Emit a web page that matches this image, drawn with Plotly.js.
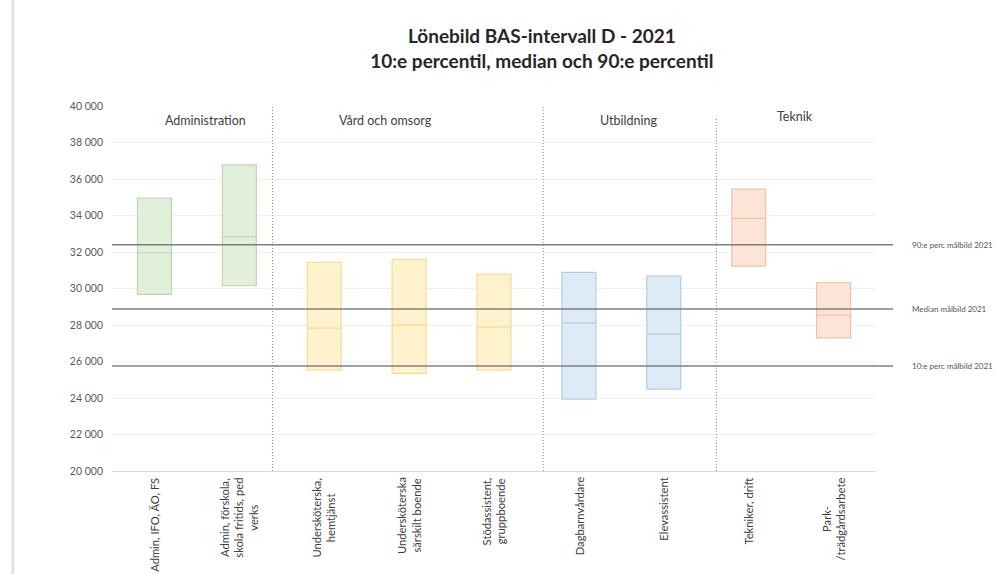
<!DOCTYPE html>
<html>
<head>
<meta charset="utf-8">
<script src="https://cdn.plot.ly/plotly-3.0.1.min.js"></script>
<style>
html,body{margin:0;padding:0;background:#fff;}
#chart{width:996px;height:574px;}
</style>
</head>
<body>
<div id="chart"></div>
<script>
// ---- data ----
const categories = [
  "Admin, IFO, ÄO, FS",
  "Admin, förskola,<br>skola fritids, ped<br>verks",
  "Undersköterska,<br>hemtjänst",
  "Undersköterska<br>särskilt boende",
  "Stödassistent,<br>gruppboende",
  "Dagbarnvårdare",
  "Elevassistent",
  "Tekniker, drift",
  "Park-<br>/trädgårdsarbete"
];
const groupOf = [0, 0, 1, 1, 1, 2, 2, 3, 3];
const groupNames = ["Administration", "Vård och omsorg", "Utbildning", "Teknik"];
const p10    = [29680, 30150, 25530, 25350, 25530, 23940, 24490, 31230, 27300];
const median = [31960, 32840, 27830, 27990, 27900, 28120, 27500, 33840, 28540];
const p90    = [34960, 36770, 31430, 31600, 30790, 30880, 30680, 35450, 30330];
const targetNames  = ["90:e perc målbild 2021", "Median målbild 2021", "10:e perc målbild 2021"];
const targetValues = [32400, 28870, 25760];
const dividerPos = [1.39, 4.58, 6.62];
const dividerTop = [40000, 40000, 39400];
const groupLabelX = [0.60, 2.72, 5.58, 7.54];
const groupLabelY = [39230, 39230, 39230, 39450];

// ---- styles ----
const fills = ["#e2efda", "#fff2cc", "#ddebf7", "#fce4d6"];
const borders = ["#bcd8a9", "#f3dc95", "#b3cde6", "#efc3a6"];

const traces = groupNames.map((g, gi) => {
  const idx = categories.map((c, i) => i).filter(i => groupOf[i] === gi);
  return {
    type: "box",
    name: g,
    x: idx,
    q1: idx.map(i => p10[i]),
    median: idx.map(i => median[i]),
    q3: idx.map(i => p90[i]),
    lowerfence: idx.map(i => p10[i]),
    upperfence: idx.map(i => p90[i]),
    width: 0.4,
    fillcolor: fills[gi],
    line: {color: borders[gi], width: 1.2},
    whiskerwidth: 0,
    hoverinfo: "skip",
    showlegend: false
  };
});

const shapes = [];
// left page border
shapes.push({type: "rect", xref: "paper", yref: "paper", x0: -0.1315, x1: -0.1283, y0: -0.3, y1: 1.3,
  fillcolor: "#dedede", line: {width: 0}, layer: "below"});
// target lines
targetValues.forEach(v => shapes.push({type: "line", xref: "paper", yref: "y", x0: 0, x1: 1.0223, y0: v, y1: v,
  line: {color: "#7f7f7f", width: 1.5}}));
// dividers
dividerPos.forEach((x, i) => shapes.push({type: "line", xref: "x", yref: "y", x0: x, x1: x, y0: 20000, y1: dividerTop[i],
  line: {color: "#8c8c8c", width: 1, dash: "1px,2px"}}));

const annotations = [];
groupNames.forEach((g, i) => annotations.push({x: groupLabelX[i], y: groupLabelY[i], xref: "x", yref: "y",
  text: g, showarrow: false, font: {family: "Lato, sans-serif", size: 12.5, color: "#404040"}}));
targetNames.forEach((t, i) => annotations.push({x: 1.0445, y: targetValues[i], xref: "paper", yref: "y",
  text: t, showarrow: false, xanchor: "left", font: {family: "Lato, sans-serif", size: 8, color: "#555"}}));
// category labels (rotated, centred lines)
categories.forEach((c, i) => annotations.push({x: i, y: -0.012, xref: "x", yref: "paper",
  text: c, showarrow: false, textangle: -90, align: "center", xanchor: "center", yanchor: "top",
  font: {family: "Lato, sans-serif", size: 11.2, color: "#404040"}}));

const layout = {
  width: 996, height: 574,
  paper_bgcolor: "#fff", plot_bgcolor: "#fff",
  margin: {l: 112, r: 120, t: 106, b: 103},
  separators: ", ",
  boxmode: "overlay",
  title: {
    text: "<b>Lönebild BAS-intervall D - 2021<br>10:e percentil, median och 90:e percentil</b>",
    x: 0.544, xanchor: "center", xref: "container",
    y: 0.925, yanchor: "top",
    font: {family: "Lato, sans-serif", size: 19, color: "#262626"}
  },
  xaxis: {
    range: [-0.5, 8.5],
    tickmode: "array",
    tickvals: categories.map((c, i) => i),
    showticklabels: false,
    ticks: "",
    showgrid: false,
    zeroline: false,
    showline: true,
    linecolor: "#d9d9d9"
  },
  yaxis: {
    range: [20000, 40000],
    dtick: 2000,
    tickformat: ",d",
    showgrid: true,
    gridcolor: "#f0f0f0",
    zeroline: false,
    ticks: "",
    ticklabelstandoff: 8,
    tickfont: {family: "Lato, sans-serif", size: 10.5, color: "#595959"}
  },
  shapes: shapes,
  annotations: annotations,
  showlegend: false
};

Plotly.newPlot("chart", traces, layout, {displayModeBar: false, staticPlot: true});
</script>
</body>
</html>
